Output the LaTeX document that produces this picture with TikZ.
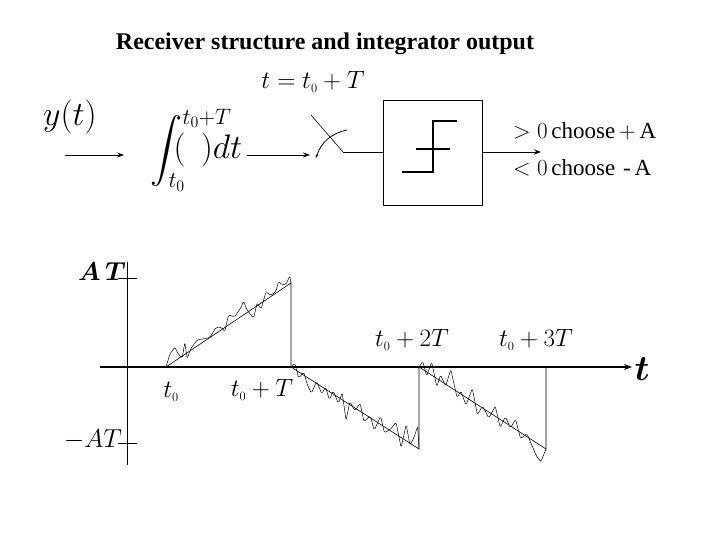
\RequirePackage{fix-cm}
\documentclass[tikz,border=0pt]{standalone}
\usepackage{amsmath,amssymb,bm}
\usepackage{fontspec}
\setmainfont{Liberation Serif}
\usetikzlibrary{arrows.meta,calc}
\begin{document}
\begin{tikzpicture}[x=1pt,y=-1pt,
  conn/.style={-{Stealth[length=7pt,width=5pt]},line width=0.9pt},
  thin/.style={line width=0.6pt},
  noisy/.style={line width=0.5pt,rounded corners=1.5pt},
  lbl/.style={inner sep=0pt,font=\fontsize{25}{27}\selectfont}]
\useasboundingbox (0,0) rectangle (720,540);
\node (title) at (325,44) {\fontsize{24}{26}\selectfont\bfseries Receiver structure and integrator output};
% top chain
\node[lbl,font=\fontsize{34}{36}\selectfont] (y) at (70,117) {$y(t)$};
\coordinate (a1) at (65,155); \coordinate (a1e) at (124,155);
\draw[conn] (a1) -- (a1e);
\node[lbl,font=\fontsize{32}{34}\selectfont] (int) at (168,150) {$\displaystyle\int_{t_0}^{\rlap{$\scriptstyle t_0+T$}}$};
\node[lbl,font=\fontsize{34}{36}\selectfont] (dt) at (208,150) {$(\,\;)dt$};
\coordinate (a2) at (247,155); \coordinate (a2e) at (310,155);
\draw[conn] (a2) -- (a2e);
\node[lbl] (ts) at (313,82) {$t = t_{\scriptscriptstyle 0} + T$};
\coordinate (s1) at (311,115); \coordinate (s2) at (343,152);
\draw[thin] (s1) -- (s2);
\node[draw,thin,minimum width=99pt,minimum height=105pt,inner sep=0pt] (box) at (432.5,152.5) {};
\draw[thin] (s2) -- (box.west |- s2);
\draw[line width=0.8pt,-{Stealth[length=4pt,width=3pt]}] (347,130) to[bend right=30] (316,158);
\draw[line width=2.8pt] (402,172) -- (433,172) -- (433,121) -- (457,121);
\draw[line width=2.8pt] (416,149) -- (450,149);
\coordinate (oe) at (541,152);
\draw[conn] (box.east |- oe) -- (oe);
\node[lbl,anchor=west,font=\fontsize{23}{25}\selectfont] (c1) at (513,131) {$>0$\,choose$\,+\,$A};
\node[lbl,anchor=west,font=\fontsize{23}{25}\selectfont] (c2) at (513,168) {$<0$\,choose\,\,-\,A};
% graph
\coordinate (v0) at (127,262); \coordinate (v1) at (127,465);
\draw[thin] (v0) -- (v1);
\coordinate (h0) at (100,367); \coordinate (h1) at (632,367);
\draw[line width=1.3pt,-{Stealth[length=8pt,width=6pt]}] (h0) -- (h1);
\draw[thin] (118,278) -- (137,278);
\draw[thin] (118,443) -- (137,443);
\node[lbl,font=\fontsize{26}{28}\selectfont] (AT) at (102,272) {$\bm{A\,T}$};
\node[lbl,font=\fontsize{26}{28}\selectfont] (mAT) at (93,440) {$-AT$};
\node[lbl,font=\fontsize{36}{38}\selectfont] (tt) at (642,369) {$\bm{t}$};
\node[lbl] (l0) at (171,392) {$t_{\scriptscriptstyle 0}$};
\node[lbl] (l1) at (262,390) {$t_{\scriptscriptstyle 0}+T$};
\node[lbl] (l2) at (412,340) {$t_{\scriptscriptstyle 0}+2T$};
\node[lbl] (l3) at (536,340) {$t_{\scriptscriptstyle 0}+3T$};
% ramps
\coordinate (r0) at (166,367); \coordinate (r1) at (291,283);
\coordinate (p0) at (291,367); \coordinate (p1) at (419,449);
\coordinate (q0) at (419,367); \coordinate (q1) at (546,449);
\draw[thin] (r0) -- (r1) -- (p0);
\draw[thin] (p0) -- (p1) -- (q0);
\draw[thin] (q0) -- (q1) -- (q1 |- q0);
% noise
\draw[noisy] (r0) \foreach \f/\d in {.03/-10,.07/-14,.1/-4,.13/2,.15/-12,.17/6,.2/-2,.25/-6,.3/-3,.35/0,.4/-6,.44/-3,.47/4,.5/-10,.55/-4,.6/-9,.62/-14,.65/-2,.7/10,.73/-3,.76/6,.8/-8,.84/-1,.88/-2,.9/-10,.93/-4,.96/-2,.99/-8,1/0} { -- ($(r0)!\f!(r1)+(0,\d)$) };
\draw[noisy] (p0) \foreach \f/\d in {.03/-6,.06/6,.1/-3,.13/8,.16/13,.2/-2,.24/7,.27/-2,.3/8,.33/-3,.37/6,.4/-7,.43/18,.46/-3,.5/3,.54/-8,.57/8,.62/-2,.65/10,.7/-8,.73/6,.78/-2,.82/-12,.86/10,.9/-16,.93/2,.96/-8,.99/-22,1/0} { -- ($(p0)!\f!(p1)+(0,\d)$) };
\draw[noisy] (q0) \foreach \f/\d in {.03/-8,.06/4,.1/-13,.14/8,.17/-6,.21/2,.25/-18,.3/6,.33/-3,.37/8,.42/-13,.46/10,.5/-2,.55/6,.6/-10,.64/8,.68/-6,.72/2,.76/-10,.8/6,.85/-3,.9/8,.93/14,.96/16,1/0} { -- ($(q0)!\f!(q1)+(0,\d)$) };
\end{tikzpicture}
\end{document}
